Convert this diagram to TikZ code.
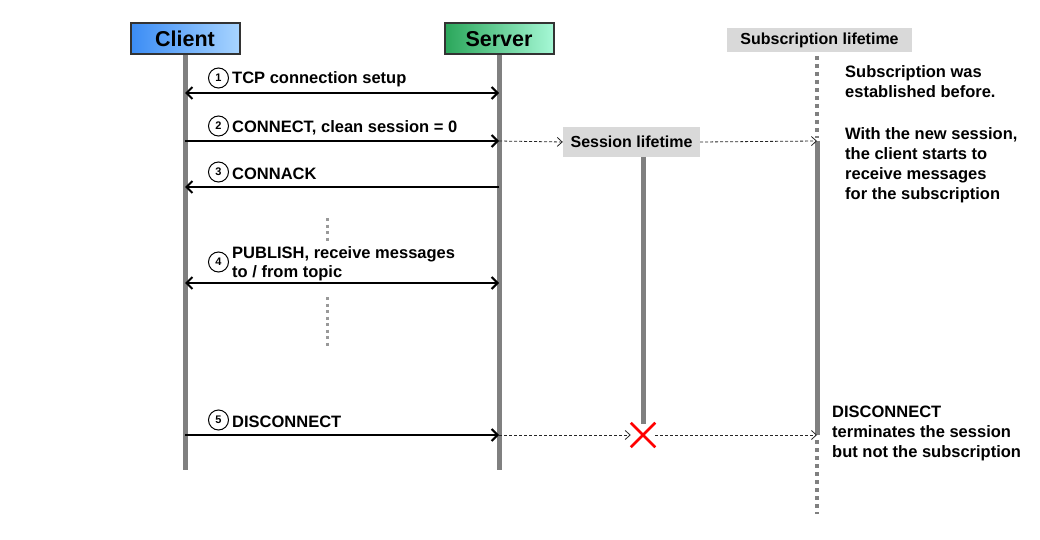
\documentclass[tikz,border=0pt]{standalone}
\usepackage{fontspec}
\setmainfont{Liberation Sans}
\usetikzlibrary{arrows.meta,shapes.misc}
\definecolor{lifegray}{HTML}{808080}
\definecolor{boxgray}{HTML}{D9D9D9}
\definecolor{cblueL}{HTML}{3A8CF5}
\definecolor{cblueR}{HTML}{A8D4FF}
\definecolor{cgreenL}{HTML}{2AA65A}
\definecolor{cgreenR}{HTML}{A6F8D6}
\begin{document}
\begin{tikzpicture}[x=1pt,y=-1pt,
  actor/.style={draw=black!80, line width=2pt, minimum width=109pt, minimum height=31pt, inner sep=0pt,
    font=\bfseries\fontsize{21.5}{24}\selectfont},
  lifebox/.style={fill=boxgray, inner sep=0pt, font=\bfseries\fontsize{16}{18}\selectfont},
  life/.style={draw=lifegray, line width=5pt},
  subdots/.style={draw=lifegray, line width=4.5pt, dash pattern=on 4pt off 4pt},
  smalldots/.style={draw=lifegray!80, line width=3pt, dash pattern=on 3pt off 3.5pt},
  msg/.style={draw=black, line width=2pt, -{Straight Barb[length=6pt,width=12pt,line width=2pt]}},
  msgboth/.style={msg, {Straight Barb[length=6pt,width=12pt,line width=2pt]}-{Straight Barb[length=6pt,width=12pt,line width=2pt]}},
  dmsg/.style={draw=black!85, line width=0.8pt, dash pattern=on 3pt off 2pt, -{Straight Barb[length=5pt,width=9pt,line width=0.8pt]}},
  num/.style={circle, draw=black, line width=1pt, minimum size=20pt, inner sep=0pt, font=\bfseries\fontsize{11}{11}\selectfont},
  lbl/.style={anchor=west, inner sep=0pt, xshift=3pt, yshift=-1.5pt, align=left, font=\bfseries\fontsize{16.5}{19}\selectfont},
  note/.style={anchor=north west, inner sep=0pt, align=left, font=\bfseries\fontsize{16.5}{20}\selectfont}]
\useasboundingbox (0,0) rectangle (1040,540);

% lifelines
\coordinate (ctop) at (185,55);
\coordinate (cbot) at (185,470);
\coordinate (stop) at (499,55);
\coordinate (sbot) at (499,470);
\draw[life] (ctop) -- (cbot);
\draw[life] (stop) -- (sbot);

% actors
\node[actor, left color=cblueL, right color=cblueR] (client) at (185,39) {Client};
\node[actor, left color=cgreenL, right color=cgreenR] (server) at (499,39) {Server};

% lifetime boxes
\node[lifebox, minimum width=185pt, minimum height=24pt] (sub) at (819.5,40) {Subscription lifetime};
\node[lifebox, minimum width=137pt, minimum height=30pt] (sess) at (631.5,142) {Session lifetime};

% subscription line
\coordinate (subA) at (817,56);
\coordinate (subB) at (817,138);
\coordinate (sub2) at (817,141);
\coordinate (sub5) at (817,435);
\coordinate (subC) at (817,440);
\coordinate (subD) at (817,514);
\draw[subdots] (subA) -- (subB);
\draw[life] (sub2) -- (sub5);
\draw[subdots] (subC) -- (subD);

% session line and end
\node[cross out, draw=red, line width=2.5pt, minimum size=22pt, inner sep=0pt] (xend) at (643,435) {};
\coordinate (sesstop) at (643,157);
\coordinate (sessbot) at (643,424);
\draw[life] (sesstop) -- (sessbot);

% message anchors
\coordinate (c1) at (185,93);   \coordinate (s1) at (499,93);
\coordinate (c2) at (185,141);  \coordinate (s2) at (499,141);
\coordinate (c3) at (185,187);  \coordinate (s3) at (499,187);
\coordinate (c4) at (185,283);  \coordinate (s4) at (499,283);
\coordinate (c5) at (185,435);  \coordinate (s5) at (499,435);

\draw[msgboth] (c1) -- (s1);
\draw[msg] (c2) -- (s2);
\draw[msg] (s3) -- (c3);
\draw[msgboth] (c4) -- (s4);
\draw[msg] (c5) -- (s5);

% dashed propagation
\draw[dmsg] (s2) -- (sess.west);
\draw[dmsg] (sess.east) -- (sub2);
\draw[dmsg] (s5) -- (xend.west);
\draw[dmsg] (xend.east) -- (sub5);

% labels
\node[num] (n1) at (218.5,78) {1};
\node[lbl] (l1) at (n1.east) {TCP connection setup};
\node[num] (n2) at (218.5,126) {2};
\node[lbl] (l2) at (n2.east) {CONNECT, clean session = 0};
\node[num] (n3) at (218.5,172) {3};
\node[lbl] (l3) at (n3.east) {CONNACK};
\node[num] (n4) at (218.5,262) {4};
\node[lbl] (l4) at (n4.east) {PUBLISH, receive messages\\to / from topic};
\node[num] (n5) at (218.5,420) {5};
\node[lbl] (l5) at (n5.east) {DISCONNECT};

% dotted continuation marks
\coordinate (d1a) at (327,218); \coordinate (d1b) at (327,241);
\coordinate (d2a) at (327,297); \coordinate (d2b) at (327,346);
\draw[smalldots] (d1a) -- (d1b);
\draw[smalldots] (d2a) -- (d2b);

% notes
\node[note] (t1) at (845,65) {Subscription was\\established before.};
\node[note] (t2) at (845,127) {With the new session,\\the client starts to\\receive messages\\for the subscription};
\node[note] (t3) at (832,406) {DISCONNECT\\terminates the session\\but not the subscription};
\end{tikzpicture}
\end{document}
